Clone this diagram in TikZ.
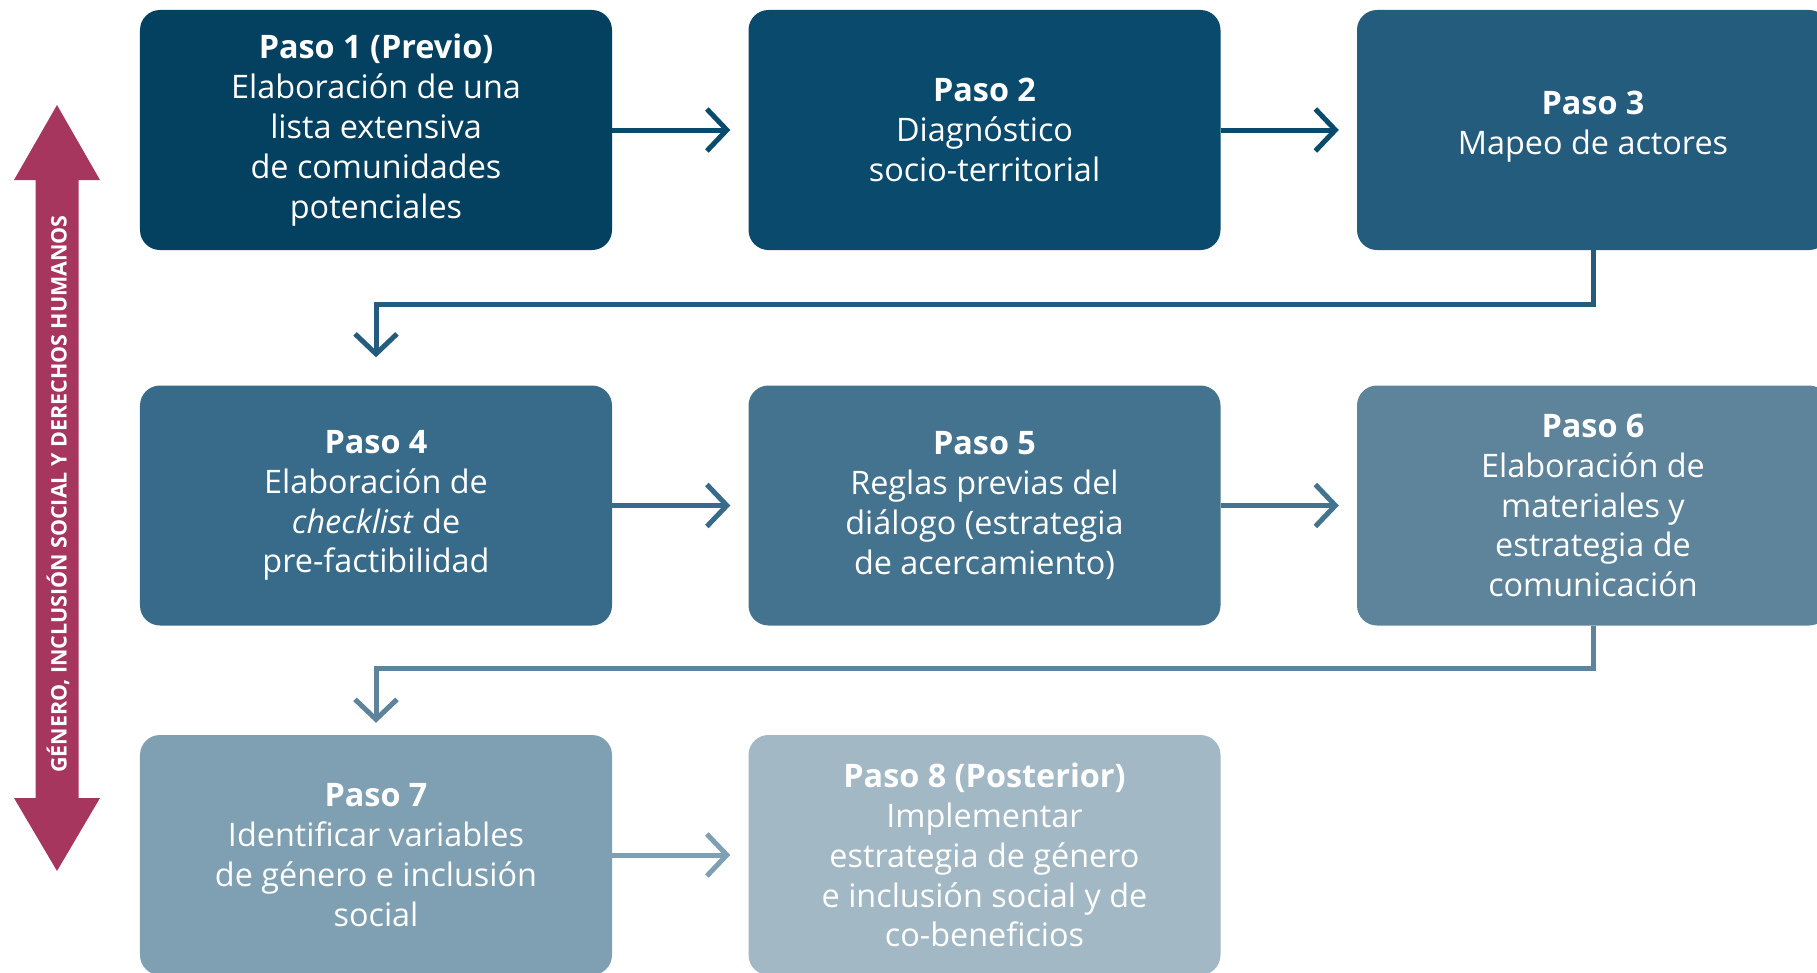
\documentclass[tikz,border=0pt]{standalone}
\usepackage{fontspec}
\setmainfont{Open Sans}
\usetikzlibrary{arrows.meta}
\definecolor{cA}{HTML}{04405F}
\definecolor{cB}{HTML}{0A4A6C}
\definecolor{cC}{HTML}{245C7E}
\definecolor{cD}{HTML}{386A89}
\definecolor{cE}{HTML}{44738F}
\definecolor{cF}{HTML}{5E849C}
\definecolor{cG}{HTML}{7FA0B3}
\definecolor{cH}{HTML}{A2B8C5}
\definecolor{mag}{HTML}{A7365F}
\tikzset{
  stepbox/.style={rectangle, rounded corners=20bp, minimum width=472bp, minimum height=240bp,
    inner sep=0pt, text=white, align=center, font=\fontsize{32.5}{40}\selectfont},
  steptext/.style={inner sep=0pt, text=white, align=center, font=\fontsize{32.5}{40}\selectfont},
  conn/.style={line width=5bp, -{Straight Barb[length=20bp,width=42bp]}},
  band/.style={fill=mag, draw=none}
}
\begin{document}
\begin{tikzpicture}[x=1bp,y=-1bp]
\useasboundingbox (0,0) rectangle (1817,972);
\clip (0,0) rectangle (1817,972);
\node[stepbox, fill=cA] (b1) at (376,130) {\textbf{Paso 1 (Previo)}\\Elaboración de una\\lista extensiva\\de comunidades\\potenciales};
\node[stepbox, fill=cB] (b2) at (984.5,130) {\textbf{Paso 2}\\Diagnóstico\\socio-territorial};
\node[stepbox, fill=cC] (b3) at (1593,130) {};
\node[steptext] (t3) at ([yshift=3bp]b3.center) {\textbf{Paso 3}\\Mapeo de actores};
\node[stepbox, fill=cD] (b4) at (376,505.5) {\textbf{Paso 4}\\Elaboración de\\\textit{checklist} de\\pre-factibilidad};
\node[stepbox, fill=cE] (b5) at (984.5,505.5) {\textbf{Paso 5}\\Reglas previas del\\diálogo (estrategia\\de acercamiento)};
\node[stepbox, fill=cF] (b6) at (1593,505.5) {\textbf{Paso 6}\\Elaboración de\\materiales y\\estrategia de\\comunicación};
\node[stepbox, fill=cG] (b7) at (376,855) {\textbf{Paso 7}\\Identificar variables\\de género e inclusión\\social};
\node[stepbox, fill=cH] (b8) at (984.5,855) {\textbf{Paso 8 (Posterior)}\\Implementar\\estrategia de género\\e inclusión social y de\\co-beneficios};

\draw[conn, cB] (b1.east) -- ([xshift=-18bp]b2.west);
\draw[conn, cB] (b2.east) -- ([xshift=-18bp]b3.west);
\draw[conn, cC] (b3.south) -- ++(0,54) -| ([yshift=28bp]b4.north);
\draw[conn, cD] (b4.east) -- ([xshift=-18bp]b5.west);
\draw[conn, cE] (b5.east) -- ([xshift=-18bp]b6.west);
\draw[conn, cF] (b6.south) -- ++(0,43) -| ([yshift=12bp]b7.north);
\draw[conn, cG] (b7.east) -- ([xshift=-18bp]b8.west);

\fill[band] (57,105) -- (100,180) -- (78.5,180) -- (78.5,798) -- (100,798) -- (57,871)
  -- (14,798) -- (35.5,798) -- (35.5,180) -- (14,180) -- cycle;
\node[rotate=90, text=white, font=\bfseries\fontsize{21.5}{24}\selectfont, inner sep=0pt] (lab) at (58,494)
  {GÉNERO, INCLUSIÓN SOCIAL Y DERECHOS HUMANOS};
\end{tikzpicture}
\end{document}
